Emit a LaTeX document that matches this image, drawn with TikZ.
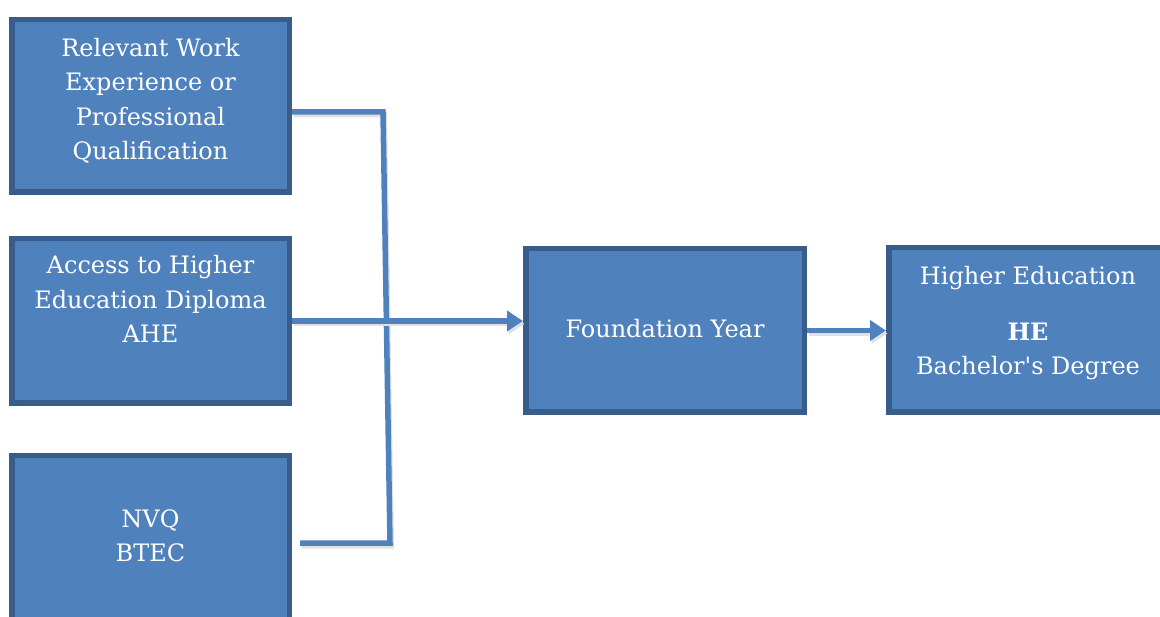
\documentclass[tikz,border=0pt]{standalone}
\usepackage{fontspec}
\setmainfont{DejaVu Serif}
\usetikzlibrary{arrows.meta, positioning}
\definecolor{boxfill}{HTML}{4F81BD}
\definecolor{boxline}{HTML}{385D8A}
\tikzset{>={Triangle[length=16pt,width=20pt]}}
\tikzset{
  stage/.style={draw=boxline, fill=boxfill, line width=5.5pt, text=white, align=center,
    font=\fontsize{24}{34.5}\selectfont, inner sep=0pt, anchor=north west},
  link/.style={draw=boxfill, line width=5.5pt,
    preaction={draw=black!12, line width=5pt, transform canvas={shift={(1.5pt,-3pt)}}}},
}

\begin{document}
\begin{tikzpicture}[x=1pt,y=-1pt]
        \useasboundingbox (0,0) rectangle (1160,617);
        % entry routes
        \node[stage, minimum width=277.5pt, text height=140pt, text depth=32.5pt] (work) at (9,17)
          {Relevant Work\\Experience or\\Professional\\Qualification};
        \node[stage, minimum width=277.5pt, text height=104pt, text depth=60.5pt] (access) at (9,236)
          {Access to Higher\\Education Diploma\\AHE};
        \node[stage, minimum width=277.5pt, text height=106pt, text depth=60pt] (nvq) at (9,453)
          {NVQ\\BTEC};
        % foundation and degree
        \node[stage, minimum width=278.5pt, text height=89pt, text depth=74.5pt] (found) at (523,246)
          {Foundation Year};
        \node[stage, minimum width=278.5pt, text height=127pt, text depth=37.5pt] (he) at (886,245)
          {Higher Education\\[21.5pt]\textbf{HE}\\Bachelor\textquotesingle s Degree};

        \coordinate (jointop) at (383,112);
        \coordinate (jointbot) at (390,543);
        \coordinate (nvqend) at (300,543);
        \draw[link] (work.east |- jointop) -- (jointop) -- (jointbot) -- (nvqend);
        \draw[link, ->] (access.east) -- (access.east -| found.west);
        \draw[link, ->] (found.east) -- (found.east -| he.west);
\end{tikzpicture}
\end{document}
